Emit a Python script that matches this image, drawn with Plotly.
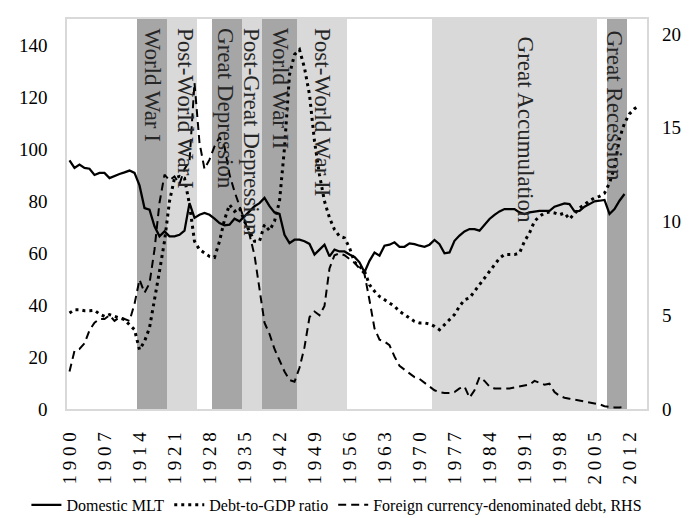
import plotly.graph_objects as go

years = list(range(1900, 2016))

domestic_mlt = [
    95.6, 92.7, 94.0, 92.7, 92.4, 90.0, 90.8, 90.8, 88.8, 89.7,   # 1900-1909
    90.4, 91.0, 91.7, 90.8, 86.0, 77.3, 76.7, 70.3, 66.4, 68.3,   # 1910-1919
    66.4, 66.4, 67.0, 68.6, 79.2, 73.5, 74.7, 75.4, 74.7, 73.2,   # 1920-1929
    71.5, 70.6, 70.9, 73.2, 72.2, 74.1, 76.0, 78.0, 79.2, 81.2,   # 1930-1939
    78.0, 75.6, 75.0, 67.0, 63.8, 65.1, 65.1, 64.5, 63.5, 59.4,   # 1940-1949
    61.3, 63.2, 58.7, 61.3, 60.6, 60.6, 59.4, 58.5, 56.4, 52.6,   # 1950-1959
    57.0, 60.2, 59.0, 62.8, 63.2, 64.1, 62.4, 62.4, 63.7, 63.4,   # 1960-1969
    62.8, 62.4, 63.2, 65.0, 63.4, 59.9, 60.2, 64.7, 66.7, 68.3,   # 1970-1979
    69.2, 69.2, 68.6, 70.9, 73.1, 74.7, 76.0, 76.9, 76.9, 76.9,   # 1980-1989
    75.6, 75.0, 75.6, 76.0, 76.2, 76.2, 76.2, 77.8, 78.6, 79.1,   # 1990-1999
    78.8, 76.0, 76.2, 77.8, 78.8, 79.9, 80.1, 80.4, 75.0, 76.9,   # 2000-2009
    80.1, 82.7, None, None, None, None,                           # 2010-2015
]

debt_to_gdp = [
    36.9, 38.2, 38.2, 37.8, 37.8, 38.0, 36.5, 35.6, 36.3, 35.6,   # 1900-1909
    35.0, 34.4, 32.4, 30.5, 22.8, 26.0, 31.2, 41.4, 53.0, 64.5,   # 1910-1919
    79.9, 88.8, 89.5, 88.8, 78.6, 64.5, 61.3, 60.0, 58.7, 58.3,   # 1920-1929
    64.5, 72.8, 78.6, 76.0, 77.3, 72.2, 68.3, 64.5, 64.5, 70.9,   # 1930-1939
    68.6, 72.2, 79.9, 100.4, 128.6, 136.3, 138.2, 131.2, 120.9, 103.0,  # 1940-1949
    90.0, 79.9, 73.5, 69.0, 66.4, 65.8, 62.0, 56.5, 54.9, 53.0,   # 1950-1959
    47.8, 45.3, 43.3, 42.0, 40.8, 39.5, 37.6, 36.3, 35.0, 33.7,   # 1960-1969
    33.1, 33.1, 32.7, 31.8, 30.5, 32.4, 34.7, 36.3, 39.5, 42.0,   # 1970-1979
    42.7, 45.3, 47.8, 50.4, 53.0, 55.5, 58.0, 59.4, 59.4, 59.4,   # 1980-1989
    60.0, 64.5, 67.7, 72.2, 74.1, 75.4, 75.8, 75.4, 74.7, 75.4,   # 1990-1999
    73.0, 75.0, 77.3, 78.6, 80.1, 81.2, 81.8, 83.0, 86.9, 93.0,   # 2000-2009
    104.0, 110.0, 113.5, 115.5, 116.8, None,                      # 2010-2015
]

foreign_currency_rhs = [
    2.0, 3.1, 3.2, 3.5, 4.2, 4.6, 4.8, 4.8, 5.0, 4.7,            # 1900-1909
    4.9, 4.8, 4.7, 5.6, 6.9, 6.2, 6.7, 8.5, 11.0, 12.5,          # 1910-1919
    12.2, 12.4, 12.0, 12.8, 13.2, 17.4, 14.2, 12.8, 13.3, 14.0,  # 1920-1929
    14.5, 14.0, 12.5, 11.6, 10.8, 10.0, 9.3, 8.2, 6.5, 4.6,      # 1930-1939
    4.0, 3.2, 2.6, 2.0, 1.55, 1.45, 2.2, 3.3, 4.9, 5.2,          # 1940-1949
    5.0, 5.5, 7.5, 8.2, 8.3, 8.2, 8.0, 7.8, 7.5, 7.2,            # 1950-1959
    5.8, 4.3, 3.7, 3.6, 3.4, 2.8, 2.3, 2.1, 1.9, 1.7,            # 1960-1969
    1.6, 1.4, 1.2, 1.0, 0.9, 0.85, 0.85, 0.9, 1.1, 1.2,          # 1970-1979
    0.6, 1.0, 1.7, 1.5, 1.2, 1.1, 1.1, 1.1, 1.1, 1.15,           # 1980-1989
    1.2, 1.25, 1.3, 1.5, 1.4, 1.3, 1.35, 0.9, 0.7, 0.6,          # 1990-1999
    0.55, 0.5, 0.45, 0.4, 0.35, 0.3, 0.25, 0.15, 0.1, 0.08,      # 2000-2009
    0.08, 0.1, None, None, None, None,                           # 2010-2015
]

# shaded periods
period_names = ["World War I", "Post-World War I", "Great Depression", "Post-Great Depression",
                "World War II", "Post-World War II", "Great Accumulation", "Great Recession"]
period_start = [1914, 1920, 1929, 1935, 1939, 1946, 1973, 2008]
period_end = [1919, 1925, 1934, 1938, 1945, 1955, 2005, 2011]
period_dark = [True, False, True, False, True, False, False, True]
label_year = [1916.5, 1923.2, 1931.2, 1936.5, 1942.2, 1950.7, 1991.1, 2009.1]
label_top = [0.982, 0.982, 0.982, 0.982, 0.982, 0.982, 0.96, 0.977]

tick_years = list(range(1900, 2013, 7))
tick_text = [" ".join(str(y)) for y in tick_years]

left_ticks = [0, 20, 40, 60, 80, 100, 120, 140]
right_ticks = [0, 5, 10, 15, 20]

SERIF = "Liberation Serif, Times New Roman, serif"

fig = go.Figure()

fig.add_trace(go.Scatter(
    x=years, y=domestic_mlt, name="Domestic MLT", mode="lines",
    line=dict(color="black", width=2.25), yaxis="y"))
fig.add_trace(go.Scatter(
    x=years, y=debt_to_gdp, name="Debt-to-GDP ratio", mode="lines",
    line=dict(color="black", width=3, dash="3px,4px"), yaxis="y"))
fig.add_trace(go.Scatter(
    x=years, y=foreign_currency_rhs, name="Foreign currency-denominated debt, RHS", mode="lines",
    line=dict(color="black", width=2, dash="8px,5px"), yaxis="y2"))

shapes = []
annotations = []
for name, s, e, dark, lx, lt in zip(period_names, period_start, period_end, period_dark, label_year, label_top):
    shapes.append(dict(type="rect", xref="x", yref="paper", x0=s - 0.5, x1=e + 0.5, y0=0, y1=1,
                       fillcolor="#A6A6A6" if dark else "#D9D9D9", line=dict(width=0), layer="below"))
    annotations.append(dict(text=name, x=lx, y=lt, xref="x", yref="paper", textangle=90,
                            xanchor="center", yanchor="top", showarrow=False,
                            font=dict(family=SERIF, size=23, color="#262626")))

fig.update_layout(
    width=698, height=518,
    margin=dict(l=59, r=59, t=11, b=117, autoexpand=False),
    paper_bgcolor="white", plot_bgcolor="white",
    shapes=shapes, annotations=annotations,
    showlegend=True,
    legend=dict(orientation="h", x=-0.07, xanchor="left", xref="paper",
                y=-0.246, yanchor="middle", yref="paper",
                font=dict(family=SERIF, size=16, color="black"),
                itemwidth=30, tracegroupgap=0, bgcolor="rgba(0,0,0,0)"),
    xaxis=dict(range=[1899.5, 2015.5], tickmode="array", tickvals=tick_years, ticktext=tick_text,
               tickangle=-90, showgrid=False, zeroline=False, showline=True, mirror=True,
               linecolor="#D9D9D9", linewidth=1.5, ticks="", ticklabelstandoff=14,
               automargin=False, tickfont=dict(family=SERIF, size=19, color="black")),
    yaxis=dict(range=[0, 150], tickmode="array", tickvals=left_ticks, showgrid=False, zeroline=False,
               showline=True, mirror=True, linecolor="#D9D9D9", linewidth=1.5, ticks="",
               automargin=False, ticklabelstandoff=14, tickfont=dict(family=SERIF, size=19, color="black")),
    yaxis2=dict(range=[0, 20.8], tickmode="array", tickvals=right_ticks, overlaying="y", side="right",
                showgrid=False, zeroline=False, showline=False, ticks="", ticklabelstandoff=14,
                automargin=False, tickfont=dict(family=SERIF, size=19, color="black")),
)

fig.write_html("out.html")
